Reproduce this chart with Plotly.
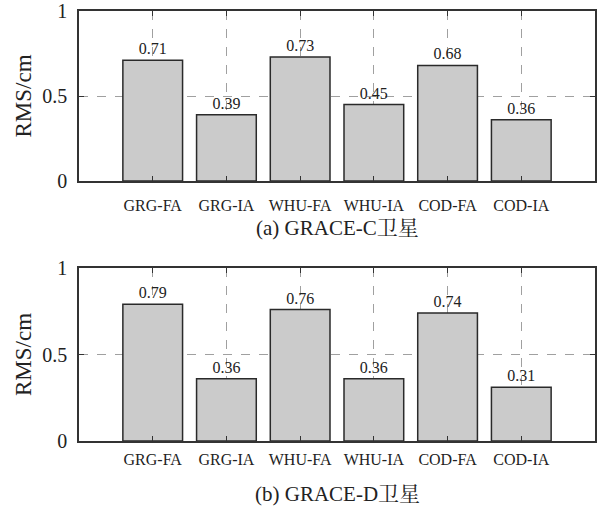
import plotly.graph_objects as go

categories = ["GRG-FA", "GRG-IA", "WHU-FA", "WHU-IA", "COD-FA", "COD-IA"]
rms_c = [0.71, 0.39, 0.73, 0.45, 0.68, 0.36]
rms_d = [0.79, 0.36, 0.76, 0.36, 0.74, 0.31]
y_ticks = [0, 0.5, 1]
y_tick_labels = ["0", "0.5", "1"]
subtitles = ["(a) GRACE-C卫星", "(b) GRACE-D卫星"]
y_title = "RMS/cm"

FONT = "Liberation Serif, Times New Roman, Noto Serif CJK SC, Noto Sans CJK SC, serif"
TXT = "#222222"
W, H = 599, 506

fig = go.Figure()
for i, vals in enumerate([rms_c, rms_d]):
    suffix = "" if i == 0 else "2"
    fig.add_trace(go.Bar(
        x=categories, y=vals,
        xaxis="x" + suffix, yaxis="y" + suffix,
        width=0.81,
        marker=dict(color="#cbcbcb", line=dict(color="#2a2a2a", width=1.5)),
        text=[f"{v:.2f}" for v in vals],
        textposition="outside",
        textfont=dict(family=FONT, size=16, color=TXT),
        cliponaxis=False,
        showlegend=False,
    ))

def dom(top_px, bot_px):
    return [1 - bot_px / H, 1 - top_px / H]

axis_common = dict(
    showline=True, linecolor="#333333", linewidth=1.5, mirror="ticks",
    ticks="inside", ticklen=5, tickcolor="#333333", tickwidth=1,
    showgrid=True, gridcolor="#a0a0a0", griddash="dash", gridwidth=1,
    zeroline=False,
)

layout = dict(
    width=W, height=H,
    margin=dict(l=79, r=4, t=0, b=0, autoexpand=False),
    plot_bgcolor="white", paper_bgcolor="white",
    font=dict(family=FONT, color=TXT),
)
for i, (t, b, standoff) in enumerate([(11, 181, 9), (268, 441, 3)]):
    suffix = "" if i == 0 else "2"
    layout["xaxis" + suffix] = dict(
        axis_common, domain=[0, 1], anchor="y" + suffix,
        type="category", range=[-1, 6],
        tickfont=dict(family=FONT, size=16, color=TXT),
        ticklabelstandoff=standoff,
    )
    layout["yaxis" + suffix] = dict(
        axis_common, domain=dom(t, b), anchor="x" + suffix,
        range=[0, 1], tickvals=y_ticks, ticktext=y_tick_labels,
        tickfont=dict(family=FONT, size=20, color=TXT),
        ticklabelstandoff=6,
        title=dict(text=y_title, font=dict(family=FONT, size=23, color=TXT), standoff=4),
    )

fig.update_layout(**layout)

for txt, ypx in zip(subtitles, [228, 494]):
    fig.add_annotation(
        text=txt, xref="paper", yref="paper", x=0.5, y=1 - ypx / H,
        xanchor="center", yanchor="middle", showarrow=False,
        font=dict(family=FONT, size=21, color=TXT),
    )

fig.write_html(
    "out.html",
    config={"displayModeBar": False},
    post_script="document.body.style.margin='0';document.body.style.overflow='hidden';",
)
